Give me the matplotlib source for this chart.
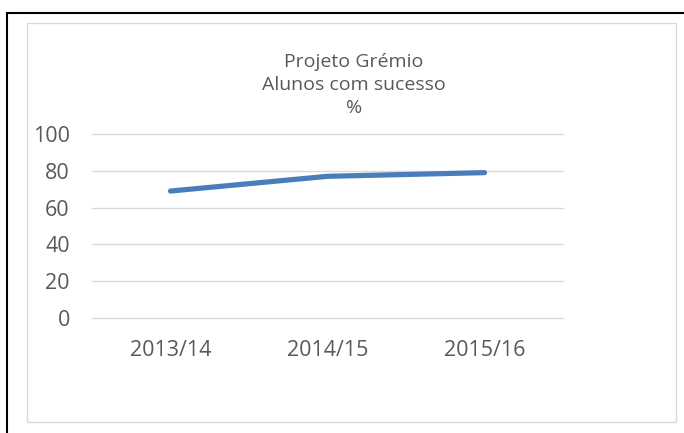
import matplotlib.pyplot as plt
from matplotlib.patches import Rectangle

anos = ["2013/14", "2014/15", "2015/16"]
sucesso = [69, 77, 79]
y_ticks = [0, 20, 40, 60, 80, 100]

plt.rcParams['font.family'] = ['Open Sans', 'DejaVu Sans']

fig = plt.figure(figsize=(6.84, 4.33), dpi=100)
W, H = 684, 433

# Outer black frame (cut off on right and bottom) and inner grey chart border
fig.patches.append(Rectangle((7 / W, -0.1), 1.2, (H - 13) / H + 0.1, transform=fig.transFigure,
                             fill=False, edgecolor='black', linewidth=1.5))
fig.patches.append(Rectangle((27 / W, (H - 422) / H), (676 - 27) / W, (422 - 23) / H,
                             transform=fig.transFigure, fill=False, edgecolor='#d9d9d9', linewidth=1))

ax = fig.add_axes([92 / W, (H - 318) / H, (563 - 92) / W, (318 - 134) / H])
x = range(len(anos))
ax.plot(x, sucesso, color='#4a7ebb', linewidth=3.75, solid_capstyle='round')

ax.set_xlim(-0.5, len(anos) - 0.5)
ax.set_ylim(0, 100)
ax.set_yticks(y_ticks)
ax.set_xticks(list(x))
ax.set_xticklabels(anos)
ax.grid(axis='y', color='#d9d9d9', linewidth=1)
for gl in ax.get_ygridlines():
    gl.set_clip_on(False)
ax.set_axisbelow(True)
for s in ax.spines.values():
    s.set_visible(False)
ax.tick_params(length=0, labelsize=15.5, colors='#595959')
ax.tick_params(axis='x', pad=16)
ax.tick_params(axis='y', pad=16)

fig.text(354 / W, (H - 85) / H, "Projeto Grémio\nAlunos com sucesso\n%",
         ha='center', va='center', fontsize=14, color='#595959', linespacing=1.38)

fig.savefig('out.png', dpi=100)
